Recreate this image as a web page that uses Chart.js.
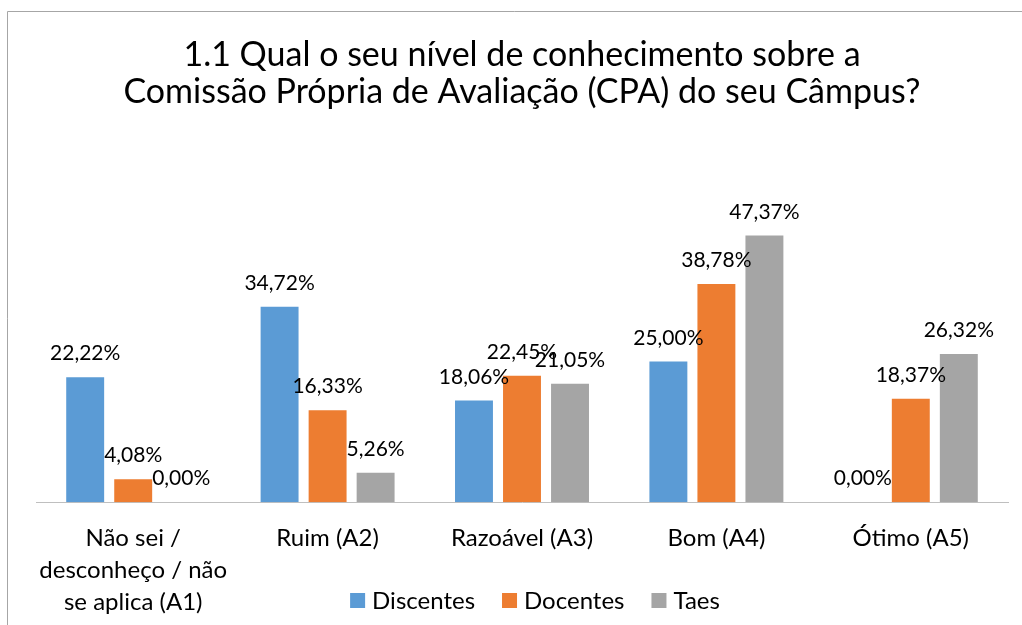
<!DOCTYPE html>
<html lang="pt">
<head>
    <meta charset="UTF-8">
    <title>1.1 Conhecimento sobre a CPA</title>
    <script src="https://cdn.jsdelivr.net/npm/chart.js"></script>
    <style>
        body { margin: 0; background: #fff; }
        #box { position: relative; width: 1022px; height: 625px; }
    </style>
</head>
<body>
    <div id="box"><canvas id="cpaChart"></canvas></div>

    <script>
        // categorias (eixo X)
        const categorias = [
            ['Não sei /', 'desconheço / não', 'se aplica (A1)'],
            'Ruim (A2)',
            'Razoável (A3)',
            'Bom (A4)',
            'Ótimo (A5)'
        ];
        // percentuais por segmento
        const discentes = [22.22, 34.72, 18.06, 25.00, 0.00];
        const docentes = [4.08, 16.33, 22.45, 38.78, 18.37];
        const taes = [0.00, 5.26, 21.05, 47.37, 26.32];

        const titulo = [
            '1.1 Qual o seu nível de conhecimento sobre a',
            'Comissão Própria de Avaliação (CPA) do seu Câmpus?'
        ];

        const FONTE = 'Lato, "Open Sans", sans-serif';

        // moldura cinza (como no Excel)
        const moldura = {
            id: 'moldura',
            beforeDraw(chart) {
                const ctx = chart.ctx;
                ctx.save();
                ctx.strokeStyle = '#a6a6a6';
                ctx.lineWidth = 1;
                ctx.beginPath();
                ctx.moveTo(7.5, chart.height);
                ctx.lineTo(7.5, 11.5);
                ctx.lineTo(chart.width, 11.5);
                ctx.stroke();
                ctx.restore();
            }
        };

        // rótulos de dados acima das barras
        const rotulos = {
            id: 'rotulos',
            afterDatasetsDraw(chart) {
                const ctx = chart.ctx;
                ctx.save();
                ctx.font = '21px ' + FONTE;
                ctx.fillStyle = '#000';
                ctx.textAlign = 'center';
                ctx.textBaseline = 'alphabetic';
                chart.data.datasets.forEach((ds, i) => {
                    chart.getDatasetMeta(i).data.forEach((bar, j) => {
                        const txt = ds.data[j].toFixed(2).replace('.', ',') + '%';
                        ctx.fillText(txt, bar.x, bar.y - 17);
                    });
                });
                ctx.restore();
            }
        };

        // legenda desenhada à mão, sobreposta à área dos rótulos (como no Excel)
        const legenda = {
            id: 'legenda',
            afterDraw(chart) {
                const ctx = chart.ctx;
                ctx.save();
                ctx.font = '24px ' + FONTE;
                ctx.textBaseline = 'middle';
                ctx.textAlign = 'left';
                const box = 15, gapTxt = 7, gapItem = 27;
                const itens = chart.data.datasets.map(ds => ({
                    nome: ds.label, cor: ds.backgroundColor, w: ctx.measureText(ds.label).width
                }));
                let total = 0;
                itens.forEach((it, k) => { total += box + gapTxt + it.w + (k ? gapItem : 0); });
                let x = 535 - total / 2;
                const yc = 600.5;
                itens.forEach(it => {
                    ctx.fillStyle = it.cor;
                    ctx.fillRect(x, yc - box / 2, box, box);
                    ctx.fillStyle = '#000';
                    ctx.fillText(it.nome, x + box + gapTxt, yc + 1);
                    x += box + gapTxt + it.w + gapItem;
                });
                ctx.restore();
            }
        };

        new Chart(document.getElementById('cpaChart'), {
            type: 'bar',
            data: {
                labels: categorias,
                datasets: [
                    { label: 'Discentes', data: discentes, backgroundColor: '#5b9bd5' },
                    { label: 'Docentes', data: docentes, backgroundColor: '#ed7d31' },
                    { label: 'Taes', data: taes, backgroundColor: '#a5a5a5' }
                ]
            },
            options: {
                responsive: true,
                maintainAspectRatio: false,
                animation: false,
                categoryPercentage: 0.741,
                barPercentage: 0.79,
                layout: { padding: { left: 36, right: 14, top: 0, bottom: -13 } },
                plugins: {
                    legend: { display: false },
                    tooltip: { enabled: false },
                    title: {
                        display: true,
                        text: titulo,
                        color: '#000',
                        font: { family: FONTE, size: 34, weight: 'normal', lineHeight: 1.07 },
                        padding: { top: 37, bottom: 111 }
                    }
                },
                scales: {
                    x: {
                        grid: { display: false, drawTicks: false },
                        border: { display: true, color: '#bfbfbf', width: 1 },
                        ticks: {
                            color: '#000',
                            padding: 20,
                            maxRotation: 0,
                            autoSkip: false,
                            font: { family: FONTE, size: 24, lineHeight: 1.33 }
                        }
                    },
                    y: {
                        display: false,
                        min: 0,
                        max: 50
                    }
                }
            },
            plugins: [moldura, rotulos, legenda]
        });
    </script>
</body>
</html>
